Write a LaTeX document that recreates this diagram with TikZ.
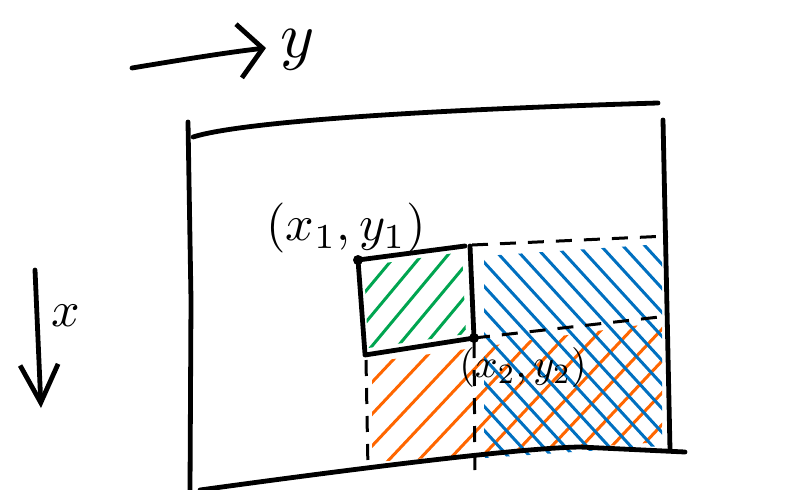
\documentclass[tikz,border=0pt]{standalone}
\usetikzlibrary{arrows.meta}
\definecolor{hgreen}{RGB}{0,165,80}
\definecolor{horange}{RGB}{255,102,0}
\definecolor{hblue}{RGB}{0,112,192}
\tikzset{
  pen/.style={line width=4.8pt,line cap=round,line join=round},
  hatch/.style={line width=3pt,line cap=round},
  dashpen/.style={line width=3pt,dash pattern=on 16pt off 12pt},
  ytip/.style={-{Straight Barb[length=24pt,width=54pt]}},
  xtip/.style={-{Straight Barb[length=38pt,width=38pt]}}
}
\begin{document}
\begin{tikzpicture}[x=1pt,y=-1pt]
\useasboundingbox (0,0) rectangle (798,490);
% corners
\coordinate (tl) at (193,137);
\coordinate (tr) at (658,103);
\coordinate (br) at (670,450);
\coordinate (bl) at (190,490);
\coordinate (p1) at (358,260);
\coordinate (p2) at (474,338);
% hatching
\begin{scope}
\clip (364,266) -- (462,252) -- (466,334) -- (368,348) -- cycle;
\foreach \s in {0,26,...,260} \draw[hatch,hgreen] (300+\s,370) -- ++(100,-120);
\end{scope}
\begin{scope}
\clip (372,362) -- (474,348) -- (662,322) -- (662,442) -- (372,462) -- cycle;
\foreach \s in {0,30,...,480} \draw[hatch,horange] (220+\s,480) -- ++(160,-170);
\end{scope}
\begin{scope}
\clip (484,256) -- (662,244) -- (662,446) -- (484,458) -- cycle;
\foreach \s in {-240,-218,...,200} \draw[hatch,hblue] (480+\s,236) -- ++(220,240);
\end{scope}
% axes
\coordinate (ya) at (132,68);
\coordinate (yb) at (266,48);
\draw[pen,ytip] (ya) .. controls (180,60) and (230,52) .. (yb);
\node (ylab) at (298,50) {\scalebox{6.5}{$y$}};
\coordinate (xa) at (35,270);
\coordinate (xb) at (41,408);
\draw[pen,xtip] (xa) -- (xb);
\node (xlab) at (66,316) {\scalebox{5}{$x$}};
% frame
\draw[pen] (tl) .. controls (240,122) and (420,110) .. (tr);
\draw[pen] (188,122) -- (191,300) -- (bl);
\draw[pen] (663,120) -- (br);
\draw[pen] (200,490) .. controls (360,468) and (520,448) .. (580,447) -- (685,452);
% block
\draw[pen] (p1) -- (465,246);
\draw[pen] (470,246) -- (p2);
\draw[pen] (p1) -- (365,354);
\draw[pen] (365,355) -- (p2);
\fill (p1) circle (5pt) (p2) circle (5pt);
\draw[dashpen] (472,245) -- (668,236);
\draw[dashpen] (p2) -- (668,316);
\draw[dashpen] (366,360) -- (368,470);
\draw[dashpen] (474,342) -- (475,480);
\node (lab1) at (346,228) {\scalebox{5}{$(x_1, y_1)$}};
\node (lab2) at (523,367) {\scalebox{4}{$(x_2, y_2)$}};
\end{tikzpicture}
\end{document}
